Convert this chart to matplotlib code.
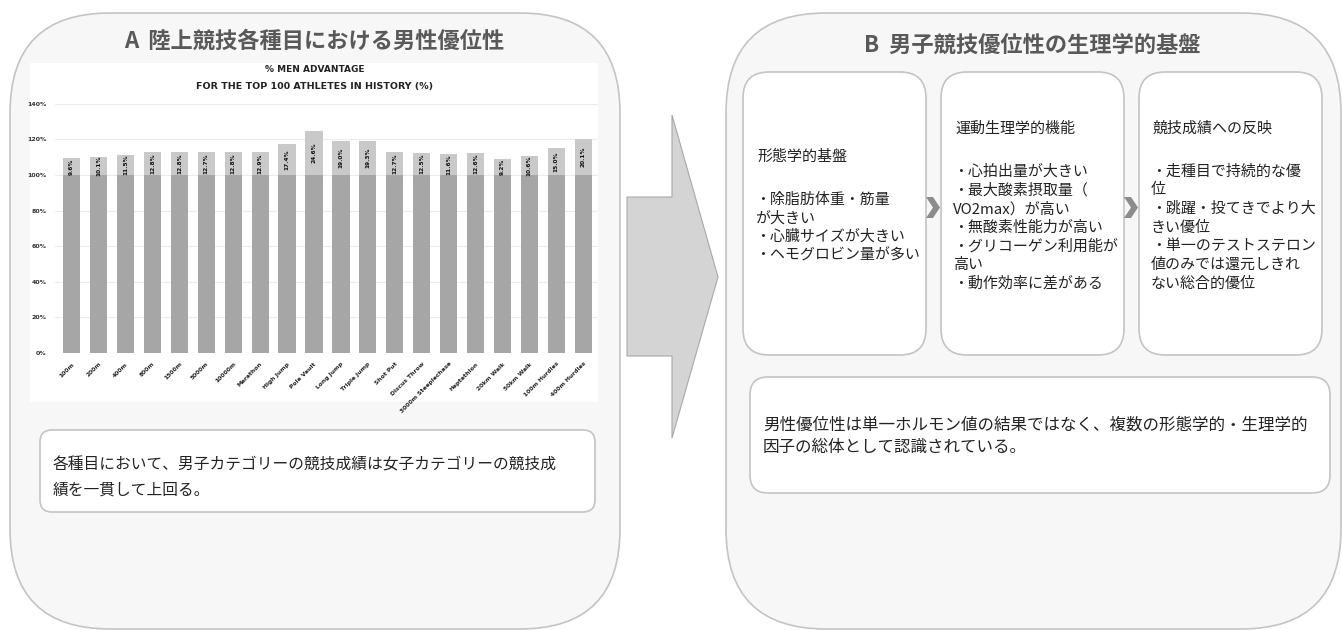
import matplotlib
matplotlib.use('Agg')
import matplotlib.pyplot as plt
from matplotlib.patches import FancyBboxPatch, Polygon, Rectangle

plt.rcParams['font.family'] = ['Noto Sans CJK JP', 'DejaVu Sans']

# --- data ---
events = ['100m', '200m', '400m', '800m', '1500m', '5000m', '10000m', 'Marathon',
          'High Jump', 'Pole Vault', 'Long Jump', 'Triple Jump', 'Shot Put',
          'Discus Throw', '3000m Steeplechase', 'Heptathlon', '20km Walk',
          '50km Walk', '100m Hurdles', '400m Hurdles']
men_advantage = [9.6, 10.1, 11.5, 12.8, 12.8, 12.7, 12.8, 12.9,
                 17.4, 24.6, 19.0, 19.3, 12.7, 12.5, 11.6, 12.6,
                 9.2, 10.6, 15.0, 20.1]
women_base = [100] * len(events)
y_ticks = [0, 20, 40, 60, 80, 100, 120, 140]

title_a = 'A  陸上競技各種目における男性優位性'
title_b = 'B  男子競技優位性の生理学的基盤'
chart_title = ['% MEN ADVANTAGE', 'FOR THE TOP 100 ATHLETES IN HISTORY (%)']
note_a = ['各種目において、男子カテゴリーの競技成績は女子カテゴリーの競技成',
          '績を一貫して上回る。']
card_titles = ['形態学的基盤', '運動生理学的機能', '競技成績への反映']
card_lines = [
    ['・除脂肪体重・筋量', 'が大きい', '・心臓サイズが大きい', '・ヘモグロビン量が多い'],
    ['・心拍出量が大きい', '・最大酸素摂取量（', 'VO2max）が高い', '・無酸素性能力が高い',
     '・グリコーゲン利用能が', '高い', '・動作効率に差がある'],
    ['・走種目で持続的な優', '位', '・跳躍・投てきでより大', 'きい優位', '・単一のテストステロン',
     '値のみでは還元しきれ', 'ない総合的優位'],
]
note_b = ['男性優位性は単一ホルモン値の結果ではなく、複数の形態学的・生理学的',
          '因子の総体として認識されている。']

W, H = 1342, 630
fig = plt.figure(figsize=(W / 100, H / 100), dpi=100)
fig.patch.set_facecolor('white')

# canvas in pixel units, y pointing down
bg = fig.add_axes([0, 0, 1, 1])
bg.set_xlim(0, W)
bg.set_ylim(H, 0)
bg.axis('off')

edge = '#c4c4c4'
panel_fill = '#f7f7f7'
title_col = '#595959'


def rbox(x0, y0, x1, y1, r, fc, ec=edge, lw=1.2):
    bg.add_patch(FancyBboxPatch((x0, y0), x1 - x0, y1 - y0,
                                boxstyle=f'round,pad=0,rounding_size={r}',
                                fc=fc, ec=ec, lw=lw))


# panel A
rbox(10, 13, 620, 629, 100, panel_fill)
bg.text(314, 41, title_a, ha='center', va='center', fontsize=16,
        fontweight='bold', color=title_col)
bg.add_patch(Rectangle((30, 63), 568, 339, fc='white', ec='none'))
bg.text(315, 70, chart_title[0], ha='center', va='center', fontsize=6.5,
        fontweight='bold', color='#222222', family='DejaVu Sans')
bg.text(315, 86, chart_title[1], ha='center', va='center', fontsize=6.8,
        fontweight='bold', color='#222222', family='DejaVu Sans')
rbox(40, 430, 595, 512, 12, 'white')
for i, line in enumerate(note_a):
    bg.text(53, 465 + i * 25, line, ha='left', va='center', fontsize=11.3,
            color='#222222')

# arrow between panels
bg.add_patch(Polygon([(627, 197), (672, 197), (672, 115), (718, 277),
                      (672, 438), (672, 356), (627, 356)],
                     closed=True, fc='#d4d4d4', ec='#a8a8a8', lw=0.8))

# panel B
rbox(726, 13, 1341, 629, 100, panel_fill)
bg.text(1032, 45, title_b, ha='center', va='center', fontsize=16,
        fontweight='bold', color=title_col)

card_x = [743, 941, 1139]
card_w = 183
for k, x0 in enumerate(card_x):
    rbox(x0, 72, x0 + card_w, 355, 26, 'white')
    lines = card_lines[k]
    block = 43 + (len(lines) - 1) * 18.6
    y = 206 - block / 2
    bg.text(x0 + 14, y, card_titles[k], ha='left', va='center', fontsize=10.8,
            color='#222222')
    for j, line in enumerate(lines):
        bg.text(x0 + 12, y + 43 + j * 18.6, line, ha='left', va='center',
                fontsize=10.8, color='#222222')

# chevrons between cards
for cx in (926, 1124):
    bg.add_patch(Polygon([(cx, 197), (cx + 7, 197), (cx + 14, 207.5),
                          (cx + 7, 218), (cx, 218), (cx + 7, 207.5)],
                         closed=True, fc='#8c8c8c', ec='none'))

rbox(750, 377, 1330, 493, 18, 'white')
for i, line in enumerate(note_b):
    bg.text(763, 425 + i * 22, line, ha='left', va='center', fontsize=11.9,
            color='#222222')

# bar chart: women's level = 100 %, men's advantage stacked on top
ax = fig.add_axes([55 / W, 1 - 353 / H, 543 / W, 258 / H])
ax.set_facecolor('white')
x = range(len(events))
ax.bar(x, women_base, width=0.64, color='#a6a6a6', zorder=2)
ax.bar(x, men_advantage, bottom=women_base, width=0.64, color='#c9c9c9', zorder=2)
for xi, b, v in zip(x, women_base, men_advantage):
    ax.text(xi, b + v / 2, f'{v:.1f}%', rotation=90, ha='center', va='center',
            fontsize=4.2, fontweight='bold', color='#111111', family='DejaVu Sans')
ax.set_xlim(-0.62, len(events) - 0.45)
ax.set_ylim(0, 145)
ax.set_yticks(y_ticks)
ax.set_yticklabels([f'{t}%' for t in y_ticks], fontsize=4.5, fontweight='bold',
                   color='#333333', family='DejaVu Sans')
ax.set_xticks(list(x))
ax.set_xticklabels(events, rotation=45, ha='right', rotation_mode='anchor',
                   fontsize=4.3, fontweight='bold', color='#222222',
                   family='DejaVu Sans')
ax.tick_params(length=0, pad=6)
ax.yaxis.grid(True, color='#ececec', lw=0.8, zorder=0)
for s in ax.spines.values():
    s.set_visible(False)

fig.savefig('out.png', dpi=100)
